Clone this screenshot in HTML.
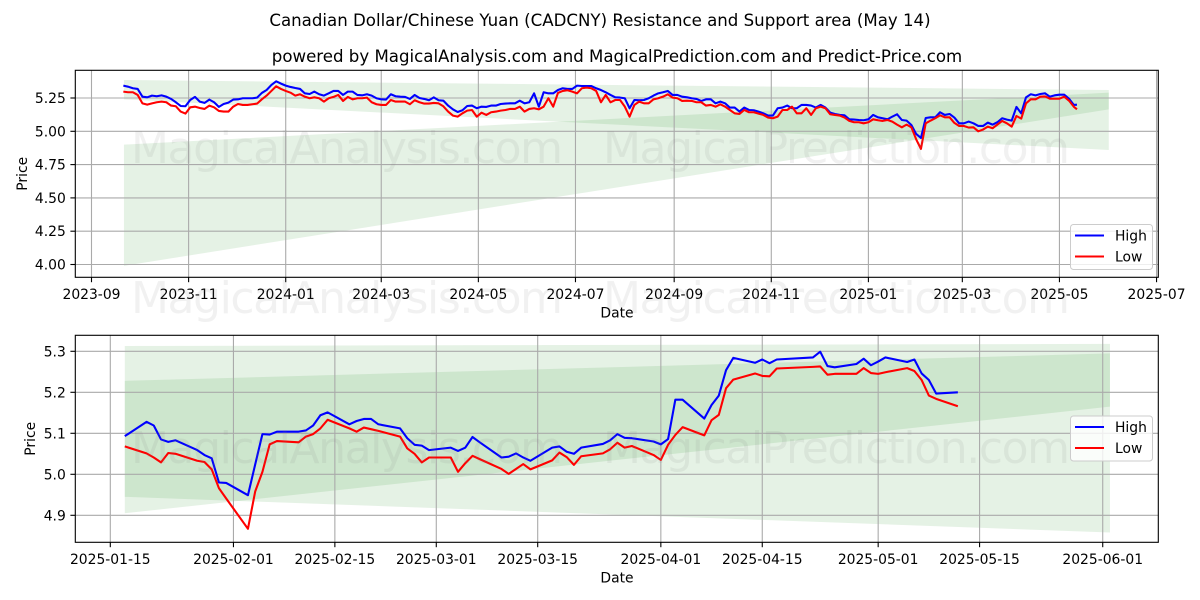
<!DOCTYPE html>
<html lang="en">
<head>
<meta charset="utf-8">
<title>Canadian Dollar/Chinese Yuan (CADCNY) Resistance and Support area</title>
<style>
html,body{margin:0;padding:0;background:#fff;}
svg{display:block;font-family:"DejaVu Sans","Liberation Sans",sans-serif;}
</style>
</head>
<body>
<svg id="chart" xmlns="http://www.w3.org/2000/svg" width="1200" height="600" viewBox="0 0 1200 600">
  <rect width="1200" height="600" fill="#fff"/>
  <text x="600" y="26" text-anchor="middle" font-size="16.62" fill="#000">Canadian Dollar/Chinese Yuan (CADCNY) Resistance and Support area (May 14)</text>
  <text x="617" y="62" text-anchor="middle" font-size="16.62" fill="#000">powered by MagicalAnalysis.com and MagicalPrediction.com and Predict-Price.com</text>
  <g id="top-panel"></g>
  <g id="bottom-panel"></g>
  <g id="watermarks" font-size="44" fill="#808080" fill-opacity="0.11">
    <text x="131" y="163" textLength="432">MagicalAnalysis.com</text>
    <text x="603" y="163" textLength="467">MagicalPrediction.com</text>
    <text x="131" y="313" textLength="432">MagicalAnalysis.com</text>
    <text x="603" y="313" textLength="467">MagicalPrediction.com</text>
    <text x="131" y="463" textLength="432">MagicalAnalysis.com</text>
    <text x="603" y="463" textLength="467">MagicalPrediction.com</text>
  </g>
  <g>
    <rect x="1070.5" y="224.5" width="82" height="45" rx="3" fill="#fff" fill-opacity="0.8" stroke="#ccc" stroke-width="1"/>
    <line x1="1075" x2="1104" y1="235.5" y2="235.5" stroke="#0000ff" stroke-width="2.08"/>
    <text x="1115" y="240.5" font-size="13.89">High</text>
    <line x1="1075" x2="1104" y1="256.5" y2="256.5" stroke="#ff0000" stroke-width="2.08"/>
    <text x="1115" y="261.5" font-size="13.89">Low</text>
  </g>
  <g>
    <rect x="1070.5" y="416" width="82" height="45" rx="3" fill="#fff" fill-opacity="0.8" stroke="#ccc" stroke-width="1"/>
    <line x1="1075" x2="1104" y1="427" y2="427" stroke="#0000ff" stroke-width="2.08"/>
    <text x="1115" y="432" font-size="13.89">High</text>
    <line x1="1075" x2="1104" y1="448" y2="448" stroke="#ff0000" stroke-width="2.08"/>
    <text x="1115" y="453" font-size="13.89">Low</text>
  </g>
</svg>
<script>
// ---------- Top panel data (days since 2023-09-01) ----------
const topDays = [20,23,26,29,32,35,38,41,44,47,50,53,56,59,62,65,68,71,74,77,80,83,86,89,92,95,98,101,104,107,110,113,116,119,122,125,128,131,134,137,140,143,146,149,152,155,158,161,164,167,170,173,176,179,182,185,188,191,194,197,200,203,206,209,212,215,218,221,224,227,230,233,236,239,242,245,248,251,254,257,260,263,266,269,272,275,278,281,284,287,290,293,296,299,302,305,308,311,314,317,320,323,326,329,332,335,338,341,344,347,350,353,356,359,362,365,368,371,374,377,380,383,386,389,392,395,398,401,404,407,410,413,416,419,422,425,428,431,434,437,440,443,446,449,452,455,458,461,464,467,470,473,476,479,482,485,488,491,494,497,500,503,506,509,512,515,518,521,524,527,530,533,536,539,542,545,548,551,554,557,560,563,566,569,572,575,578,581,584,587,590,593,596,599,602,605,608,611,614,617,619];
const topHigh = [5.343,5.335,5.323,5.318,5.260,5.255,5.268,5.263,5.270,5.260,5.243,5.218,5.190,5.188,5.235,5.258,5.223,5.213,5.238,5.218,5.183,5.205,5.215,5.238,5.240,5.248,5.248,5.248,5.253,5.288,5.310,5.348,5.375,5.358,5.343,5.333,5.325,5.318,5.285,5.280,5.298,5.278,5.268,5.285,5.303,5.303,5.273,5.298,5.298,5.273,5.270,5.278,5.268,5.248,5.240,5.238,5.278,5.263,5.260,5.258,5.243,5.273,5.250,5.243,5.233,5.255,5.233,5.230,5.193,5.165,5.145,5.158,5.190,5.193,5.173,5.185,5.183,5.193,5.193,5.205,5.208,5.210,5.210,5.230,5.210,5.218,5.285,5.185,5.293,5.285,5.285,5.310,5.323,5.318,5.318,5.343,5.340,5.340,5.340,5.323,5.310,5.293,5.273,5.255,5.253,5.248,5.173,5.235,5.233,5.235,5.248,5.268,5.285,5.293,5.303,5.273,5.273,5.260,5.255,5.248,5.243,5.228,5.240,5.240,5.210,5.223,5.210,5.178,5.178,5.148,5.178,5.160,5.158,5.148,5.135,5.118,5.118,5.173,5.178,5.193,5.173,5.173,5.198,5.198,5.193,5.178,5.198,5.178,5.140,5.130,5.123,5.120,5.090,5.088,5.085,5.083,5.090,5.123,5.105,5.098,5.090,5.110,5.128,5.085,5.080,5.047,4.980,4.950,5.100,5.105,5.105,5.143,5.123,5.130,5.103,5.060,5.060,5.073,5.060,5.040,5.040,5.065,5.050,5.068,5.098,5.088,5.080,5.183,5.135,5.255,5.278,5.270,5.280,5.285,5.260,5.270,5.275,5.275,5.245,5.198,5.200];
const topLow = [5.298,5.293,5.293,5.273,5.210,5.200,5.210,5.218,5.223,5.218,5.193,5.188,5.148,5.133,5.180,5.185,5.175,5.168,5.193,5.180,5.153,5.148,5.148,5.185,5.205,5.198,5.198,5.203,5.208,5.240,5.268,5.303,5.338,5.318,5.303,5.290,5.268,5.278,5.260,5.248,5.255,5.248,5.223,5.248,5.258,5.273,5.228,5.258,5.240,5.248,5.248,5.253,5.218,5.203,5.198,5.198,5.235,5.223,5.223,5.223,5.203,5.233,5.218,5.208,5.208,5.213,5.210,5.188,5.148,5.118,5.110,5.135,5.155,5.160,5.110,5.140,5.123,5.143,5.148,5.155,5.160,5.168,5.168,5.185,5.148,5.168,5.173,5.165,5.185,5.248,5.185,5.288,5.303,5.308,5.298,5.285,5.323,5.328,5.323,5.303,5.218,5.273,5.218,5.235,5.235,5.185,5.110,5.198,5.223,5.210,5.210,5.240,5.248,5.260,5.278,5.253,5.248,5.228,5.230,5.228,5.218,5.218,5.193,5.198,5.185,5.203,5.185,5.160,5.135,5.130,5.160,5.143,5.143,5.133,5.123,5.103,5.098,5.110,5.160,5.160,5.185,5.135,5.135,5.173,5.123,5.173,5.185,5.173,5.128,5.123,5.118,5.103,5.078,5.068,5.068,5.060,5.068,5.090,5.083,5.078,5.085,5.073,5.050,5.030,5.050,5.030,4.940,4.868,5.060,5.080,5.098,5.120,5.105,5.105,5.063,5.040,5.040,5.028,5.030,5.000,5.013,5.035,5.023,5.050,5.078,5.060,5.035,5.115,5.095,5.210,5.240,5.240,5.260,5.262,5.245,5.245,5.245,5.260,5.230,5.185,5.165];
const topBandDays = [20.4,639];
const topResistanceUpper = [5.385,5.31];
const topResistanceLower = [5.24,4.86];
const topSupportUpper = [4.90,5.29];
const topSupportLower = [3.99,5.165];
const topYTicks = [5.25,5.00,4.75,4.50,4.25,4.00];
const topXTicks = ["2023-09","2023-11","2024-01","2024-03","2024-05","2024-07","2024-09","2024-11","2025-01","2025-03","2025-05","2025-07"];

// ---------- Bottom panel data ----------
const bottomDates = ["2025-01-17","2025-01-20","2025-01-21","2025-01-22","2025-01-23","2025-01-24","2025-01-27","2025-01-28","2025-01-29","2025-01-30","2025-01-31","2025-02-03","2025-02-04","2025-02-05","2025-02-06","2025-02-07","2025-02-10","2025-02-11","2025-02-12","2025-02-13","2025-02-14","2025-02-17","2025-02-18","2025-02-19","2025-02-20","2025-02-21","2025-02-24","2025-02-25","2025-02-26","2025-02-27","2025-02-28","2025-03-03","2025-03-04","2025-03-05","2025-03-06","2025-03-07","2025-03-10","2025-03-11","2025-03-12","2025-03-13","2025-03-14","2025-03-17","2025-03-18","2025-03-19","2025-03-20","2025-03-21","2025-03-24","2025-03-25","2025-03-26","2025-03-27","2025-03-28","2025-03-31","2025-04-01","2025-04-02","2025-04-03","2025-04-04","2025-04-07","2025-04-08","2025-04-09","2025-04-10","2025-04-11","2025-04-14","2025-04-15","2025-04-16","2025-04-17","2025-04-22","2025-04-23","2025-04-24","2025-04-25","2025-04-28","2025-04-29","2025-04-30","2025-05-01","2025-05-02","2025-05-05","2025-05-06","2025-05-07","2025-05-08","2025-05-09","2025-05-12"];
const bottomHigh = [5.093,5.128,5.119,5.085,5.079,5.083,5.059,5.047,5.039,4.980,4.979,4.949,5.024,5.098,5.097,5.104,5.104,5.107,5.119,5.144,5.151,5.122,5.130,5.135,5.135,5.122,5.112,5.088,5.072,5.070,5.059,5.065,5.057,5.065,5.091,5.078,5.041,5.043,5.051,5.041,5.033,5.065,5.068,5.055,5.050,5.065,5.074,5.083,5.098,5.089,5.088,5.080,5.073,5.086,5.182,5.182,5.136,5.169,5.192,5.254,5.284,5.272,5.280,5.271,5.280,5.285,5.299,5.264,5.261,5.269,5.282,5.266,5.275,5.285,5.274,5.280,5.246,5.230,5.197,5.200];
const bottomLow = [5.068,5.051,5.041,5.029,5.052,5.050,5.033,5.030,5.012,4.966,4.941,4.867,4.958,5.006,5.073,5.081,5.078,5.092,5.098,5.112,5.133,5.112,5.104,5.114,5.110,5.106,5.092,5.063,5.050,5.029,5.041,5.041,5.006,5.027,5.045,5.037,5.013,5.001,5.013,5.025,5.012,5.034,5.053,5.042,5.023,5.044,5.051,5.061,5.077,5.065,5.069,5.047,5.035,5.072,5.096,5.115,5.095,5.132,5.145,5.210,5.231,5.246,5.240,5.239,5.258,5.262,5.263,5.243,5.245,5.245,5.259,5.247,5.245,5.249,5.259,5.252,5.230,5.192,5.184,5.166];
const bottomBandDates = ["2025-01-17","2025-06-02"];
const bottomResistanceUpper = [5.313,5.318];
const bottomResistanceLower = [4.945,4.858];
const bottomSupportUpper = [5.228,5.295];
const bottomSupportLower = [4.905,5.165];
const bottomYTicks = [5.3,5.2,5.1,5.0,4.9];
const bottomXTicks = ["2025-01-15","2025-02-01","2025-02-15","2025-03-01","2025-03-15","2025-04-01","2025-04-15","2025-05-01","2025-05-15","2025-06-01"];

// ---------- Axis functions ----------
const SVGNS = "http://www.w3.org/2000/svg";
const DAY = 86400000;
function daysBetween(a, b){ return (Date.parse(b) - Date.parse(a)) / DAY; }
function topX(day){ return 91.5 + 1.592 * day; }
function topDateX(label){ return topX(daysBetween("2023-09-01", label + "-01")); }
function topY(v){ return 98 + (5.25 - v) * 133.2; }
function bottomX(date){ return 110.3 + 7.244 * daysBetween("2025-01-15", date); }
function bottomY(v){ return 351.3 + (5.3 - v) * 410; }

function make(parent, tag, props, text){
  const el = document.createElementNS(SVGNS, tag);
  for (const k in props) el.setAttribute(k, props[k]);
  if (text !== undefined) el.textContent = text;
  parent.appendChild(el);
  return el;
}
function linePath(xs, ys){
  return xs.map((x, i) => (i ? "L" : "M") + x.toFixed(2) + " " + ys[i].toFixed(2)).join(" ");
}
function bandPath(x0, x1, y, up, lo){
  return "M" + x0 + " " + y(up[0]) + " L" + x1 + " " + y(up[1]) + " L" + x1 + " " + y(lo[1]) + " L" + x0 + " " + y(lo[0]) + " Z";
}

function drawPanel(g, cfg){
  const L = 75.3, R = 1158.3, T = cfg.top, B = cfg.bottom;

  const resBand = make(g, "path", {d: bandPath(cfg.bandX0, cfg.bandX1, cfg.y, cfg.resUp, cfg.resLo), fill: "#008000", "fill-opacity": 0.1});
  
  
  const supBand = make(g, "path", {d: bandPath(cfg.bandX0, cfg.bandX1, cfg.y, cfg.supUp, cfg.supLo), fill: "#008000", "fill-opacity": 0.1});
  
  

  cfg.xTicks.forEach(function(label){
    const x = cfg.tickX(label);
    const grid = make(g, "line", {x1: x, x2: x, y1: T, y2: B, stroke: "#aaaaaa", "stroke-width": 1.1});
    
    
    const tick = make(g, "line", {x1: x, x2: x, y1: B, y2: B + 4.9, stroke: "#000", "stroke-width": 1.1});
    
    
    const txt = make(g, "text", {x: x, y: B + 21.5, "text-anchor": "middle", "font-size": 13.89, fill: "#000"}, label);
    
    
  });
  cfg.yTicks.forEach(function(v){
    const y = cfg.y(v);
    const grid = make(g, "line", {x1: L, x2: R, y1: y, y2: y, stroke: "#aaaaaa", "stroke-width": 1.1});
    
    
    const tick = make(g, "line", {x1: L - 4.9, x2: L, y1: y, y2: y, stroke: "#000", "stroke-width": 1.1});
    
    
    const txt = make(g, "text", {x: L - 9.5, y: y + 5, "text-anchor": "end", "font-size": 13.89, fill: "#000"}, v.toFixed(cfg.decimals));
    
    
  });

  const high = make(g, "path", {d: linePath(cfg.xs, cfg.high.map(cfg.y)), fill: "none", stroke: "#0000ff", "stroke-width": 2.08, "stroke-linejoin": "round"});
  
  
  const low = make(g, "path", {d: linePath(cfg.xs, cfg.low.map(cfg.y)), fill: "none", stroke: "#ff0000", "stroke-width": 2.08, "stroke-linejoin": "round"});
  
  

  const frame = make(g, "rect", {x: L, y: T, width: R - L, height: B - T, fill: "none", stroke: "#000", "stroke-width": 1.1});
  
  

  const xTitle = make(g, "text", {x: 617, y: B + 40, "text-anchor": "middle", "font-size": 13.89, fill: "#000"}, "Date");
  
  
  const yMid = (T + B) / 2;
  const yTitle = make(g, "text", {x: cfg.yTitleX, y: yMid, "text-anchor": "middle", "font-size": 13.89, fill: "#000", transform: "rotate(-90 " + cfg.yTitleX + " " + yMid + ")"}, "Price");
  
  
}

drawPanel(document.getElementById("top-panel"), {
  top: 70.3, bottom: 277.3, y: topY, decimals: 2, yTitleX: 27,
  bandX0: topX(topBandDays[0]), bandX1: topX(topBandDays[1]),
  resUp: topResistanceUpper, resLo: topResistanceLower, supUp: topSupportUpper, supLo: topSupportLower,
  xTicks: topXTicks, yTicks: topYTicks, tickX: topDateX,
  xs: topDays.map(topX), high: topHigh, low: topLow
});
drawPanel(document.getElementById("bottom-panel"), {
  top: 335.3, bottom: 542.3, y: bottomY, decimals: 1, yTitleX: 35,
  bandX0: bottomX(bottomBandDates[0]), bandX1: bottomX(bottomBandDates[1]),
  resUp: bottomResistanceUpper, resLo: bottomResistanceLower, supUp: bottomSupportUpper, supLo: bottomSupportLower,
  xTicks: bottomXTicks, yTicks: bottomYTicks, tickX: bottomX,
  xs: bottomDates.map(bottomX), high: bottomHigh, low: bottomLow
});
</script>
</body>
</html>
